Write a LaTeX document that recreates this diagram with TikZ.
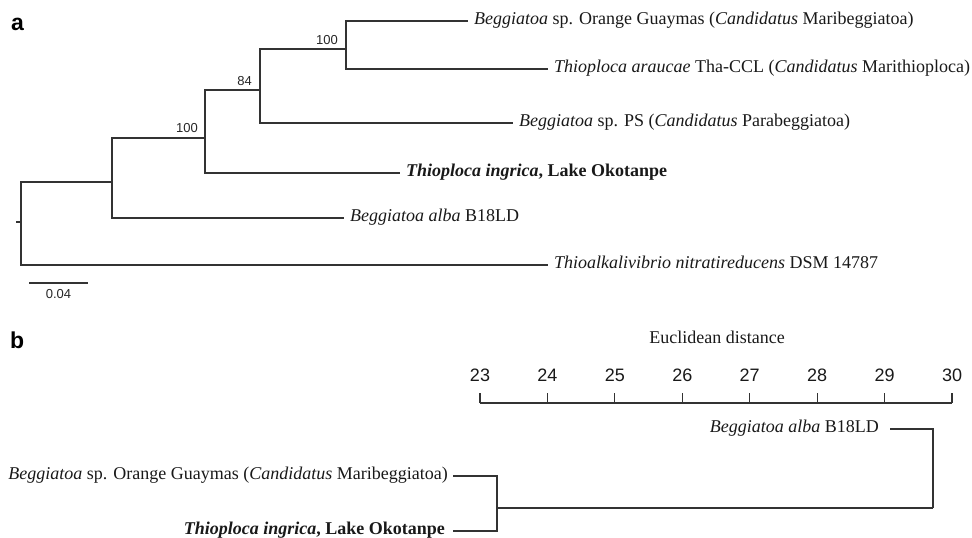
\documentclass[tikz,border=0pt]{standalone}
\usepackage{fontspec}
\setmainfont{Liberation Serif}
\newfontfamily\arialf{Liberation Sans}
\begin{document}
\begin{tikzpicture}[x=1pt,y=-1pt,
  br/.style={draw=black!80, line width=1.1pt},
  lab/.style={font=\fontsize{18}{20}\selectfont, inner xsep=6pt, inner ysep=0pt, text height=0.8em, text depth=0.2em, text=black!90},
  boot/.style={font=\arialf\fontsize{13}{15}\selectfont, inner sep=0pt, anchor=south east, text=black!85},
  axnum/.style={font=\arialf\fontsize{18}{20}\selectfont, inner sep=0pt, anchor=base, text=black!90},
  panel/.style={font=\arialf\bfseries\fontsize{23}{25}\selectfont, inner sep=0pt, anchor=base west}
]
\useasboundingbox (0,0) rectangle (972,538);

% ---------- panel a ----------
\node[panel] (pa) at (11,30) {a};

\coordinate (stub) at (16,222);
\coordinate (r) at (21,222);
\coordinate (n1) at (112,182);
\coordinate (n2) at (205,138);
\coordinate (n3) at (260,90);
\coordinate (n4) at (346,49);

\node[lab,anchor=west] (guay) at (468,21) {\textit{Beggiatoa} sp. Orange Guaymas (\textit{Candidatus} Maribeggiatoa)};
\node[lab,anchor=west] (arau) at (548,69) {\textit{Thioploca araucae} Tha-CCL (\textit{Candidatus} Marithioploca)};
\node[lab,anchor=west] (ps) at (513,123) {\textit{Beggiatoa} sp. PS (\textit{Candidatus} Parabeggiatoa)};
\node[lab,anchor=west] (ingr) at (400,173) {\textbf{\textit{Thioploca ingrica}, Lake Okotanpe}};
\node[lab,anchor=west] (alba) at (344,218) {\textit{Beggiatoa alba} B18LD};
\node[lab,anchor=west] (outg) at (548,265) {\textit{Thioalkalivibrio nitratireducens} DSM 14787};

\draw[br] (stub) -- (r);
\draw[br] (r) |- (n1);
\draw[br] (r) |- (outg.west);
\draw[br] (n1) |- (n2);
\draw[br] (n1) |- (alba.west);
\draw[br] (n2) |- (n3);
\draw[br] (n2) |- (ingr.west);
\draw[br] (n3) |- (n4);
\draw[br] (n3) |- (ps.west);
\draw[br] (n4) |- (guay.west);
\draw[br] (n4) |- (arau.west);

\node[boot] (b2) at ([xshift=-7pt,yshift=5pt]n2) {100};
\node[boot] (b3) at ([xshift=-8pt,yshift=4pt]n3) {84};
\node[boot] (b4) at ([xshift=-8pt,yshift=4pt]n4) {100};

\coordinate (sb1) at (29,283);
\coordinate (sb2) at (88,283);
\draw[br] (sb1) -- (sb2);
\node[boot,anchor=base] (sbl) at (58.5,298) {0.04};

% ---------- panel b ----------
\node[panel] (pb) at (10,348) {b};

\node[font=\fontsize{18}{20}\selectfont, inner sep=0pt, anchor=base, text=black!90] (eu) at (717,343.5) {Euclidean distance};

\coordinate (ax0) at (480,403);
\coordinate (ax1) at (952,403);
\draw[br] (ax0) -- (ax1);
\foreach \v [count=\i from 0] in {23,24,25,26,27,28,29,30} {
  \coordinate (t\i) at ({480+67.43*\i},403);
  \draw[br] (t\i) -- ++(0,-10);
  \node[axnum] (tn\i) at ({480+67.43*\i},381) {\v};
}

\coordinate (bm2) at (933,508);
\coordinate (bm1) at (497,508);
\node[lab,anchor=east,inner xsep=0pt] (balb) at (879,429) {\textit{Beggiatoa alba} B18LD};
\node[lab,anchor=east,inner xsep=0pt] (bguay) at (448,476) {\textit{Beggiatoa} sp. Orange Guaymas (\textit{Candidatus} Maribeggiatoa)};
\node[lab,anchor=east,inner xsep=0pt] (bingr) at (445,531) {\textbf{\textit{Thioploca ingrica}, Lake Okotanpe}};

\draw[br] ([xshift=11pt]balb.east) -| (bm2);
\draw[br] (bm2) -- (bm1);
\draw[br] ([xshift=5pt]bguay.east) -| (bm1);
\draw[br] ([xshift=8pt]bingr.east) -| (bm1);
\end{tikzpicture}
\end{document}
